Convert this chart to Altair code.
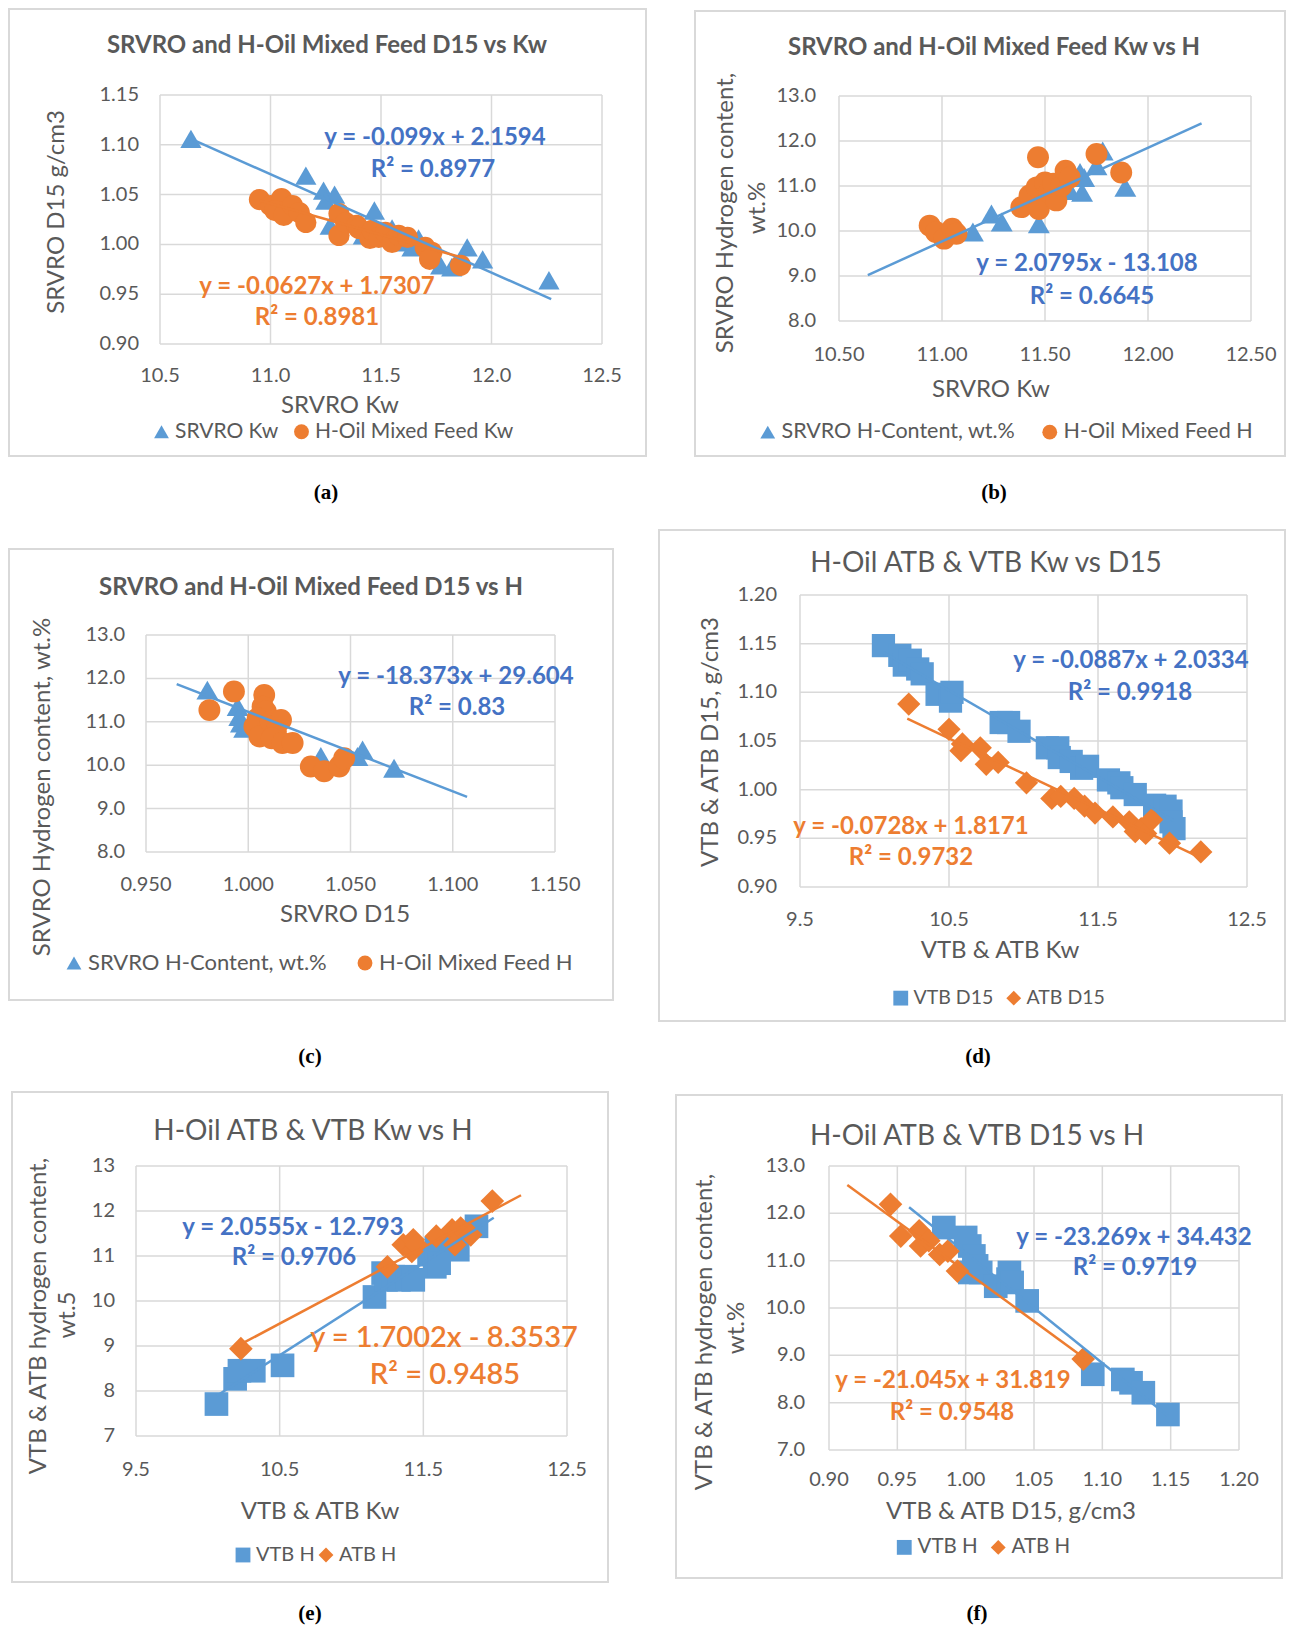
import altair as alt
import pandas as pd

FONT = "Lato"
GRAY = "#595959"
GRID = "#D9D9D9"
BLUE = "#5B9BD5"
ORANGE = "#ED7D31"
EQBLUE = "#4472C4"
W, H = 1279, 1618

# ---------------- data ----------------
# (a) D15 vs Kw
a_srvro_kw = [10.64, 11.16, 11.24, 11.29, 11.25, 11.27, 11.47, 11.42, 11.55, 11.62, 11.64, 11.67, 11.77, 11.82, 11.89, 11.96, 12.26]
a_srvro_d15 = [1.106, 1.069, 1.054, 1.050, 1.044, 1.019, 1.034, 1.009, 1.016, 1.002, 0.997, 1.006, 0.979, 0.977, 0.997, 0.985, 0.964]
a_mix_kw = [10.95, 11.00, 11.05, 11.02, 11.06, 11.10, 11.13, 11.16, 11.31, 11.31, 11.34, 11.39, 11.40, 11.45, 11.46, 11.49, 11.52, 11.55, 11.58, 11.62, 11.70, 11.73, 11.72, 11.86]
a_mix_d15 = [1.045, 1.039, 1.046, 1.034, 1.029, 1.039, 1.032, 1.022, 1.031, 1.009, 1.022, 1.019, 1.016, 1.006, 1.014, 1.007, 1.012, 1.002, 1.009, 1.007, 0.997, 0.992, 0.985, 0.979]
a_trend_blue_x = [10.64, 12.27]
a_trend_blue_y = [1.106, 0.945]
a_trend_orange_x = [10.95, 11.88]
a_trend_orange_y = [1.044, 0.986]

# (b) Kw vs H
b_srvro_kw = [11.15, 11.24, 11.29, 11.47, 11.62, 11.68, 11.69, 11.67, 11.75, 11.78, 11.89]
b_srvro_h = [9.98, 10.38, 10.20, 10.16, 10.90, 10.86, 11.19, 11.30, 11.45, 11.78, 10.97]
b_mix_kw = [10.94, 10.97, 11.01, 11.05, 11.07, 11.385, 11.425, 11.466, 11.46, 11.47, 11.50, 11.52, 11.555, 11.54, 11.58, 11.60, 11.62, 11.75, 11.87]
b_mix_h = [10.12, 9.98, 9.83, 10.05, 9.94, 10.53, 10.79, 11.64, 10.97, 10.49, 11.08, 10.86, 10.68, 11.05, 11.00, 11.34, 11.19, 11.71, 11.30]
b_trend_x = [10.64, 12.26]
b_trend_y = [9.02, 12.39]

# (c) D15 vs H
c_srvro_d15 = [0.980, 0.9948, 0.9956, 0.9964, 0.998, 1.0355, 1.0534, 1.0559, 1.0713]
c_srvro_h = [11.73, 11.35, 11.12, 10.97, 10.85, 10.20, 10.20, 10.35, 9.93]
c_mix_d15 = [0.981, 0.993, 1.0078, 1.007, 1.0086, 1.0046, 1.003, 1.0055, 1.011, 1.016, 1.0135, 1.0115, 1.0167, 1.0217, 1.0306, 1.0371, 1.0445, 1.0469]
c_mix_h = [11.27, 11.70, 11.62, 11.35, 11.24, 11.08, 10.89, 10.66, 11.00, 11.04, 10.78, 10.62, 10.51, 10.51, 9.97, 9.86, 9.97, 10.16]
c_trend_x = [0.965, 1.107]
c_trend_y = [11.87, 9.27]

# (d) Kw vs D15
d_vtb_kw = [10.06, 10.17, 10.20, 10.24, 10.29, 10.32, 10.42, 10.51, 10.52, 10.85, 10.90, 10.97, 11.16, 11.23, 11.24, 11.32, 11.39, 11.43, 11.57, 11.64, 11.66, 11.75, 11.88, 11.95, 11.99, 11.99, 12.01]
d_vtb_d15 = [1.148, 1.138, 1.128, 1.133, 1.124, 1.119, 1.098, 1.091, 1.100, 1.069, 1.069, 1.060, 1.043, 1.043, 1.033, 1.029, 1.022, 1.024, 1.010, 1.007, 1.002, 0.995, 0.984, 0.983, 0.978, 0.967, 0.960]
d_atb_kw = [10.23, 10.50, 10.58, 10.59, 10.71, 10.75, 10.83, 11.02, 11.19, 11.25, 11.34, 11.41, 11.48, 11.60, 11.71, 11.75, 11.79, 11.82, 11.86, 11.98, 12.19]
d_atb_d15 = [1.088, 1.062, 1.040, 1.047, 1.043, 1.026, 1.028, 1.007, 0.991, 0.993, 0.991, 0.983, 0.976, 0.972, 0.967, 0.957, 0.960, 0.955, 0.969, 0.945, 0.936]
d_trend_blue_x = [10.06, 12.01]
d_trend_blue_y = [1.141, 0.968]
d_trend_orange_x = [10.22, 12.19]
d_trend_orange_y = [1.073, 0.930]

# (e) Kw vs H
e_vtb_kw = [10.06, 10.19, 10.22, 10.32, 10.52, 11.16, 11.22, 11.24, 11.29, 11.33, 11.39, 11.43, 11.54, 11.58, 11.59, 11.61, 11.74, 11.87]
e_vtb_h = [7.71, 8.27, 8.45, 8.45, 8.57, 10.09, 10.62, 10.47, 10.54, 10.47, 10.54, 10.47, 11.03, 10.76, 11.17, 10.84, 11.14, 11.66]
e_atb_kw = [10.23, 11.25, 11.36, 11.42, 11.43, 11.45, 11.59, 11.70, 11.72, 11.76, 11.83, 11.98]
e_atb_h = [8.94, 10.76, 11.25, 11.10, 11.36, 11.25, 11.44, 11.58, 11.25, 11.62, 11.47, 12.22]
e_trend_blue_x = [10.06, 11.99]
e_trend_blue_y = [7.89, 11.85]
e_trend_orange_x = [10.23, 12.18]
e_trend_orange_y = [9.04, 12.35]

# (f) D15 vs H
f_vtb_d15 = [0.984, 1.000, 1.003, 1.006, 1.008, 1.003, 1.011, 1.022, 1.031, 1.032, 1.034, 1.045, 1.093, 1.115, 1.121, 1.130, 1.148]
f_vtb_h = [11.70, 11.49, 11.31, 11.10, 10.89, 10.75, 10.75, 10.46, 10.61, 10.75, 10.54, 10.15, 8.60, 8.49, 8.42, 8.21, 7.75]
f_atb_d15 = [0.945, 0.9525, 0.966, 0.967, 0.973, 0.981, 0.987, 0.994, 1.086]
f_atb_h = [12.19, 11.52, 11.63, 11.31, 11.42, 11.13, 11.20, 10.78, 8.92]
f_trend_blue_x = [0.9586, 1.148]
f_trend_blue_y = [12.13, 7.72]
f_trend_orange_x = [0.9134, 1.087]
f_trend_orange_y = [12.60, 8.94]

# tick labels
ticks_kw_a = [10.5, 11.0, 11.5, 12.0, 12.5]
ticks_d15_a = [0.90, 0.95, 1.00, 1.05, 1.10, 1.15]
ticks_h = [8.0, 9.0, 10.0, 11.0, 12.0, 13.0]
ticks_d15_c = [0.95, 1.00, 1.05, 1.10, 1.15]
ticks_kw_d = [9.5, 10.5, 11.5, 12.5]
ticks_d15_d = [0.90, 0.95, 1.00, 1.05, 1.10, 1.15, 1.20]
ticks_h_e = [7, 8, 9, 10, 11, 12, 13]
ticks_d15_f = [0.90, 0.95, 1.00, 1.05, 1.10, 1.15, 1.20]

dummy = pd.DataFrame({"k": [0]})
TL = 20  # tick label size


def text(s, x, y, size, color, weight="normal", font=FONT, angle=0):
    kw = dict(text=s, fontSize=size, color=color, fontWeight=weight, font=font,
              align="center", baseline="middle")
    if angle:
        kw["angle"] = angle
    return alt.Chart(dummy).mark_text(**kw).encode(x=alt.value(x), y=alt.value(y))


def box(x0, y0, x1, y1):
    return alt.Chart(dummy).mark_rect(
        fillOpacity=0, fill="white", stroke="#D9D9D9", strokeWidth=2
    ).encode(x=alt.value(x0), x2=alt.value(x1), y=alt.value(y0), y2=alt.value(y1))


def panel(p):
    xs = alt.Scale(domain=p["xdom"], range=p["xr"], nice=False, zero=False)
    ys = alt.Scale(domain=p["ydom"], range=p["yr"], nice=False, zero=False)

    vgrid = alt.Chart(pd.DataFrame({"v": p["xticks"]})).mark_rule(
        color=GRID, strokeWidth=1.5
    ).encode(
        x=alt.X("v:Q", scale=xs, axis=None),
        y=alt.YDatum(p["ydom"][0], type="quantitative", scale=ys, axis=None),
        y2=alt.Y2Datum(p["ydom"][1]),
    )
    hgrid = alt.Chart(pd.DataFrame({"v": p["yticks"]})).mark_rule(
        color=GRID, strokeWidth=1.5
    ).encode(
        y=alt.Y("v:Q", scale=ys, axis=None),
        x=alt.XDatum(p["xdom"][0], type="quantitative", scale=xs, axis=None),
        x2=alt.X2Datum(p["xdom"][1]),
    )
    xlab = alt.Chart(pd.DataFrame({
        "v": p["xticks"], "lab": [format(v, p["xfmt"]) for v in p["xticks"]]
    })).mark_text(
        fontSize=TL, font=FONT, color=GRAY, align="center", baseline="middle",
        dy=p["xlabpad"],
    ).encode(
        x=alt.X("v:Q", scale=xs, axis=None),
        y=alt.YDatum(p["ydom"][0], type="quantitative", scale=ys, axis=None),
        text="lab:N",
    )
    ylab = alt.Chart(pd.DataFrame({
        "v": p["yticks"], "lab": [format(v, p["yfmt"]) for v in p["yticks"]]
    })).mark_text(
        fontSize=TL, font=FONT, color=GRAY, align="right", baseline="middle",
        dx=-p["ylabpad"],
    ).encode(
        y=alt.Y("v:Q", scale=ys, axis=None),
        x=alt.XDatum(p["xdom"][0], type="quantitative", scale=xs, axis=None),
        text="lab:N",
    )

    rows = []
    for name, xv, yv in p["series"]:
        for a, b in zip(xv, yv):
            rows.append({"x": a, "y": b, "series": name})
    pts_df = pd.DataFrame(rows)
    names = [s[0] for s in p["series"]]

    leg = alt.Legend(
        orient="none", legendX=p["legxy"][0], legendY=p["legxy"][1],
        direction="horizontal", title=None, labelFontSize=p["legfont"], labelFont=FONT,
        labelColor=GRAY, symbolSize=p["legsym"], columnPadding=p["legpad"],
        labelOffset=3, padding=0, symbolStrokeWidth=0, labelLimit=500,
    )
    pts = alt.Chart(pts_df).mark_point(
        filled=True, opacity=1, size=p["msize"]
    ).encode(
        x=alt.X("x:Q", scale=xs, axis=None),
        y=alt.Y("y:Q", scale=ys, axis=None),
        color=alt.Color("series:N", scale=alt.Scale(domain=names, range=[BLUE, ORANGE]), legend=leg),
        shape=alt.Shape("series:N", scale=alt.Scale(domain=names, range=p["shapes"]), legend=leg),
    )
    lines = []
    for tx, ty, col in p["trends"]:
        lines.append(
            alt.Chart(pd.DataFrame({"x": tx, "y": ty})).mark_line(
                color=col, strokeWidth=2.5
            ).encode(
                x=alt.X("x:Q", scale=xs, axis=None),
                y=alt.Y("y:Q", scale=ys, axis=None),
            )
        )
    return alt.layer(vgrid, hgrid, xlab, ylab, pts, *lines)


panels = [
    dict(xdom=[10.5, 12.5], ydom=[0.90, 1.15], xr=[152, 594], yr=[336, 87],
         xticks=ticks_kw_a, yticks=ticks_d15_a, xfmt=".1f", yfmt=".2f",
         xlabpad=32, ylabpad=21,
         series=[("SRVRO Kw", a_srvro_kw, a_srvro_d15), ("H-Oil Mixed Feed Kw", a_mix_kw, a_mix_d15)],
         shapes=["triangle-up", "circle"], msize=450,
         trends=[(a_trend_blue_x, a_trend_blue_y, BLUE), (a_trend_orange_x, a_trend_orange_y, ORANGE)],
         legxy=(143, 413), legsym=220, legpad=12, legfont=21),
    dict(xdom=[10.5, 12.5], ydom=[8.0, 13.0], xr=[831, 1243], yr=[313, 88],
         xticks=ticks_kw_a, yticks=ticks_h, xfmt=".2f", yfmt=".1f",
         xlabpad=34, ylabpad=23,
         series=[("SRVRO H-Content, wt.%", b_srvro_kw, b_srvro_h), ("H-Oil Mixed Feed H", b_mix_kw, b_mix_h)],
         shapes=["triangle-up", "circle"], msize=480,
         trends=[(b_trend_x, b_trend_y, BLUE)],
         legxy=(749, 413), legsym=220, legpad=23, legfont=21.5),
    dict(xdom=[0.95, 1.15], ydom=[8.0, 13.0], xr=[138, 547], yr=[844, 627],
         xticks=ticks_d15_c, yticks=ticks_h, xfmt=".3f", yfmt=".1f",
         xlabpad=33, ylabpad=21,
         series=[("SRVRO H-Content, wt.%", c_srvro_d15, c_srvro_h), ("H-Oil Mixed Feed H", c_mix_d15, c_mix_h)],
         shapes=["triangle-up", "circle"], msize=480,
         trends=[(c_trend_x, c_trend_y, BLUE)],
         legxy=(55, 944), legsym=220, legpad=26, legfont=22),
    dict(xdom=[9.5, 12.5], ydom=[0.90, 1.20], xr=[792, 1239], yr=[879, 587],
         xticks=ticks_kw_d, yticks=ticks_d15_d, xfmt=".1f", yfmt=".2f",
         xlabpad=33, ylabpad=23,
         series=[("VTB D15", d_vtb_kw, d_vtb_d15), ("ATB D15", d_atb_kw, d_atb_d15)],
         shapes=["square", "diamond"], msize=540,
         trends=[(d_trend_blue_x, d_trend_blue_y, BLUE), (d_trend_orange_x, d_trend_orange_y, ORANGE)],
         legxy=(883, 980), legsym=220, legpad=10, legfont=19.5),
    dict(xdom=[9.5, 12.5], ydom=[7, 13], xr=[128, 559], yr=[1428, 1158],
         xticks=ticks_kw_d, yticks=ticks_h_e, xfmt=".1f", yfmt="d",
         xlabpad=34, ylabpad=21,
         series=[("VTB H", e_vtb_kw, e_vtb_h), ("ATB H", e_atb_kw, e_atb_h)],
         shapes=["square", "diamond"], msize=560,
         trends=[(e_trend_blue_x, e_trend_blue_y, BLUE), (e_trend_orange_x, e_trend_orange_y, ORANGE)],
         legxy=(225, 1537), legsym=220, legpad=1, legfont=20),
    dict(xdom=[0.90, 1.20], ydom=[7, 13], xr=[821, 1231], yr=[1442, 1158],
         xticks=ticks_d15_f, yticks=ticks_h_e, xfmt=".2f", yfmt=".1f",
         xlabpad=30, ylabpad=24,
         series=[("VTB H", f_vtb_d15, f_vtb_h), ("ATB H", f_atb_d15, f_atb_h)],
         shapes=["square", "diamond"], msize=560,
         trends=[(f_trend_blue_x, f_trend_blue_y, BLUE), (f_trend_orange_x, f_trend_orange_y, ORANGE)],
         legxy=(886, 1529), legsym=220, legpad=10, legfont=20.5),
]

boxes = [
    box(1, 1, 638, 448), box(687, 3, 1277, 448),
    box(1, 541, 605, 992), box(651, 522, 1277, 1013),
    box(4, 1084, 600, 1574), box(668, 1087, 1274, 1570),
]

EQ = 24
AT = 24
texts = [
    # chart titles
    text("SRVRO and H-Oil Mixed Feed D15 vs Kw", 319, 38, 24, GRAY, "bold"),
    text("SRVRO and H-Oil Mixed Feed Kw vs H", 986, 40, 24, GRAY, "bold"),
    text("SRVRO and H-Oil Mixed Feed D15 vs H", 303, 580, 24, GRAY, "bold"),
    text("H-Oil ATB & VTB Kw vs D15", 978, 556, 28, GRAY),
    text("H-Oil ATB & VTB Kw vs H", 305, 1124, 28, GRAY),
    text("H-Oil ATB & VTB D15 vs H", 969, 1129, 28, GRAY),
    # axis titles
    text("SRVRO Kw", 332, 398, AT, GRAY),
    text("SRVRO D15 g/cm3", 49, 204, AT, GRAY, angle=270),
    text("SRVRO Kw", 983, 382, AT, GRAY),
    text("SRVRO Hydrogen content,", 718, 205, AT, GRAY, angle=270),
    text("wt.%", 750, 200, AT, GRAY, angle=270),
    text("SRVRO D15", 337, 907, AT, GRAY),
    text("SRVRO Hydrogen content, wt.%", 35, 779, AT, GRAY, angle=270),
    text("VTB & ATB Kw", 992, 943, AT, GRAY),
    text("VTB & ATB D15, g/cm3", 703, 734, AT, GRAY, angle=270),
    text("VTB & ATB Kw", 312, 1504, AT, GRAY),
    text("VTB & ATB hydrogen content,", 31, 1308, AT, GRAY, angle=270),
    text("wt.5", 60, 1307, AT, GRAY, angle=270),
    text("VTB & ATB D15, g/cm3", 1003, 1504, AT, GRAY),
    text("VTB & ATB hydrogen content,", 697, 1324, AT, GRAY, angle=270),
    text("wt.%", 729, 1320, AT, GRAY, angle=270),
    # equations
    text("y = -0.099x + 2.1594", 427, 130, EQ, EQBLUE, "bold"),
    text("R² = 0.8977", 425, 162, EQ, EQBLUE, "bold"),
    text("y = -0.0627x + 1.7307", 309, 279, EQ, ORANGE, "bold"),
    text("R² = 0.8981", 309, 310, EQ, ORANGE, "bold"),
    text("y = 2.0795x - 13.108", 1079, 256, EQ, EQBLUE, "bold"),
    text("R² = 0.6645", 1084, 289, EQ, EQBLUE, "bold"),
    text("y = -18.373x + 29.604", 448, 669, EQ, EQBLUE, "bold"),
    text("R² = 0.83", 449, 700, EQ, EQBLUE, "bold"),
    text("y = -0.0887x + 2.0334", 1123, 653, EQ, EQBLUE, "bold"),
    text("R² = 0.9918", 1122, 685, EQ, EQBLUE, "bold"),
    text("y = -0.0728x + 1.8171", 903, 819, EQ, ORANGE, "bold"),
    text("R² = 0.9732", 903, 850, EQ, ORANGE, "bold"),
    text("y = 2.0555x - 12.793", 285, 1220, EQ, EQBLUE, "bold"),
    text("R² = 0.9706", 286, 1250, EQ, EQBLUE, "bold"),
    text("y = 1.7002x - 8.3537", 436, 1330, 29, ORANGE, 600),
    text("R² = 0.9485", 437, 1367, 29, ORANGE, 600),
    text("y = -23.269x + 34.432", 1126, 1230, EQ, EQBLUE, "bold"),
    text("R² = 0.9719", 1127, 1260, EQ, EQBLUE, "bold"),
    text("y = -21.045x + 31.819", 945, 1373, EQ, ORANGE, "bold"),
    text("R² = 0.9548", 944, 1405, EQ, ORANGE, "bold"),
    # captions
    text("(a)", 318, 485, 21, "black", "bold", "Liberation Serif"),
    text("(b)", 986, 485, 21, "black", "bold", "Liberation Serif"),
    text("(c)", 302, 1049, 21, "black", "bold", "Liberation Serif"),
    text("(d)", 970, 1049, 21, "black", "bold", "Liberation Serif"),
    text("(e)", 302, 1606, 21, "black", "bold", "Liberation Serif"),
    text("(f)", 969, 1606, 21, "black", "bold", "Liberation Serif"),
]

chart = alt.layer(*boxes, *[panel(p) for p in panels], *texts).resolve_scale(
    x="independent", y="independent", color="independent", shape="independent"
).resolve_legend(
    color="independent", shape="independent"
).properties(
    width=W, height=H, padding=0, background="white",
    autosize=alt.AutoSizeParams(type="none"),
).configure_view(stroke=None)

chart.save("out.html", embed_options={"renderer": "svg", "actions": False})
